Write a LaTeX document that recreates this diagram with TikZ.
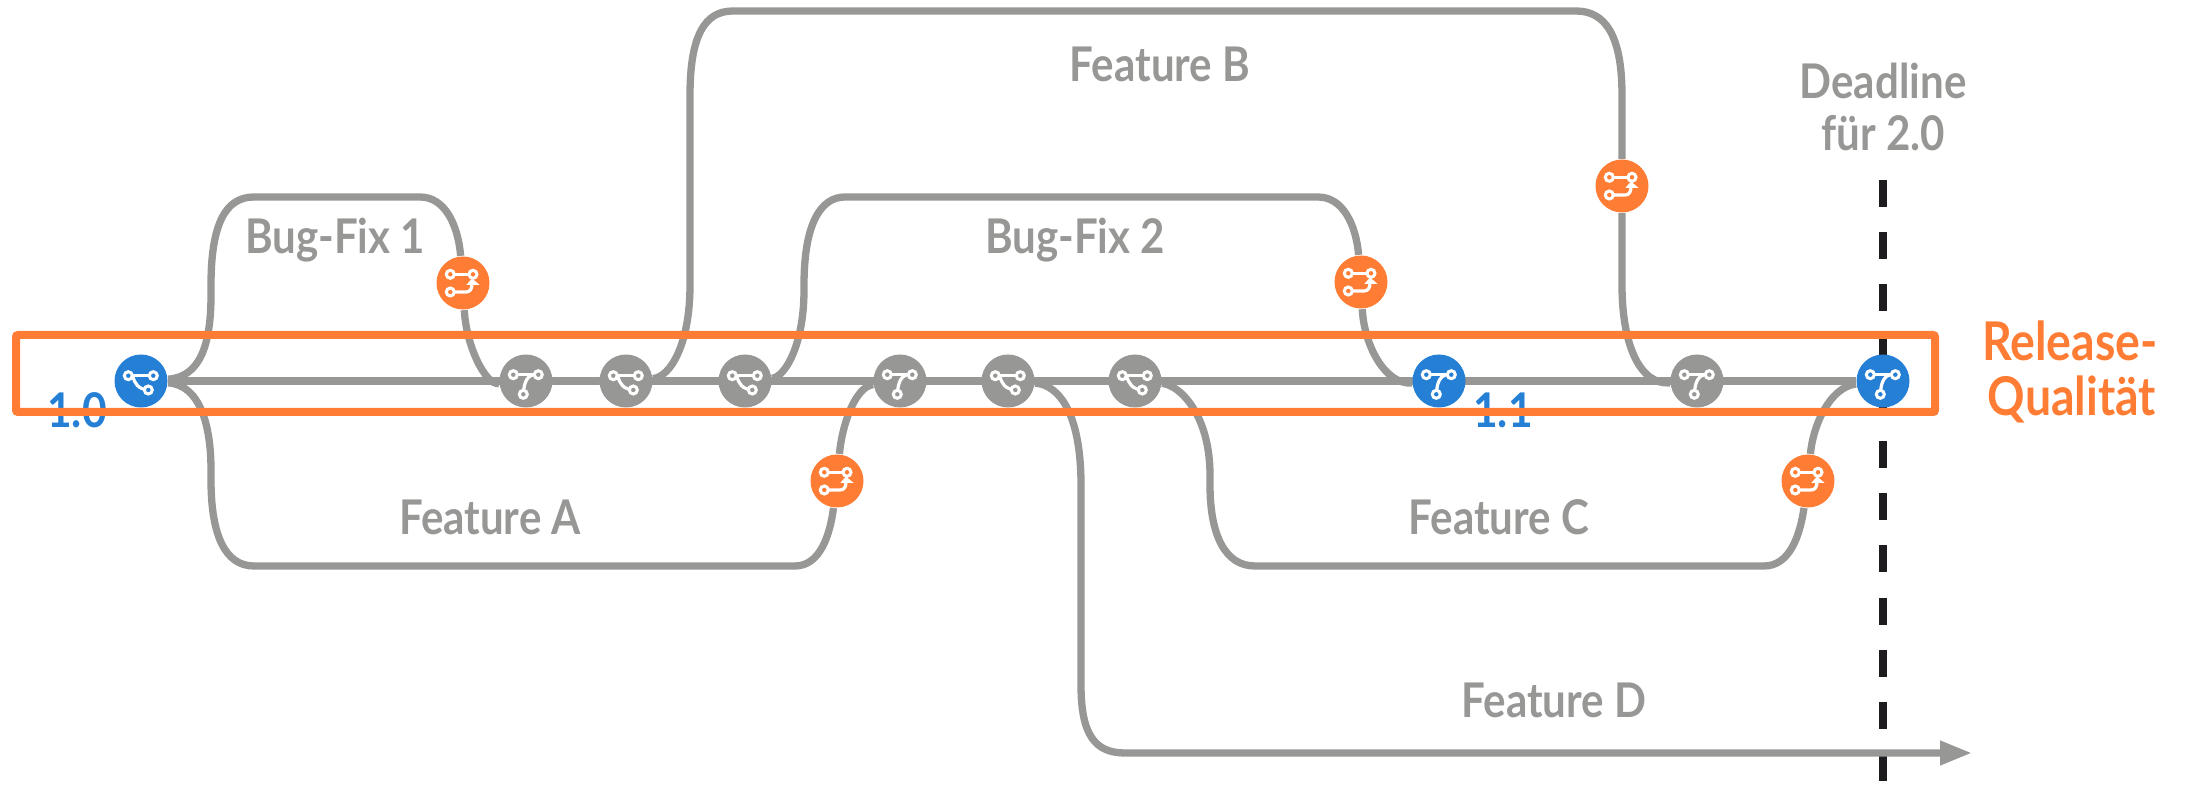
\documentclass[tikz,border=0pt]{standalone}
\usepackage{fontspec}
\setmainfont{Lato}
\usepackage{tikz}
\usetikzlibrary{calc,arrows.meta,positioning}
\definecolor{gitgray}{RGB}{151,151,149}
\definecolor{gitblue}{RGB}{37,127,212}
\definecolor{gitorange}{RGB}{255,124,52}
\definecolor{gitblack}{RGB}{30,28,30}
\pgfdeclarelayer{lines}
\pgfdeclarelayer{band}
\pgfsetlayers{lines,band,main}
\tikzset{
	gitline/.style={line width=0.073cm, color=gitgray},
	gitnode/.style={circle, fill=#1, minimum size=0.53cm, inner sep=0pt},
	ring/.style={fill=#1, draw=white, line width=0.03cm},
	iconline/.style={draw=white, line width=0.032cm},
	featlabel/.style={font=\fontsize{13.6}{16}\selectfont\bfseries, text=gitgray, inner sep=0pt, xscale=0.88},
	verlabel/.style={font=\fontsize{13.6}{16}\selectfont\bfseries, text=gitblue, inner sep=0pt, xscale=0.89},
	qualabel/.style={font=\fontsize{15.2}{18}\selectfont\bfseries, text=gitorange, inner sep=0pt, xscale=0.87},
	pics/branchicon/.style={code={
		\draw[iconline] (-0.127,0.053)--(0.123,0.053);
		\draw[iconline] (-0.085,0.053) .. controls (-0.06,-0.03) and (-0.03,-0.08) .. (0.073,-0.09);
		\draw[ring=#1] (-0.127,0.053) circle (0.04);
		\draw[ring=#1] (0.123,0.053) circle (0.04);
		\draw[ring=#1] (0.073,-0.09) circle (0.04);
	}},
	pics/joinicon/.style={code={
		\draw[iconline] (-0.127,0.063)--(0.123,0.063);
		\draw[iconline] (-0.027,-0.133) .. controls (-0.02,-0.03) and (0,0.045) .. (0.075,0.063);
		\draw[ring=#1] (-0.127,0.063) circle (0.04);
		\draw[ring=#1] (0.123,0.063) circle (0.04);
		\draw[ring=#1] (-0.027,-0.133) circle (0.04);
	}},
	pics/pullicon/.style={code={
		\draw[iconline] (-0.127,0.087)--(0.1,0.087);
		\draw[iconline] (-0.127,-0.09)--(0.03,-0.09) .. controls (0.07,-0.09) and (0.09,-0.06) .. (0.09,-0.01);
		\fill[white] (0.09,0.045)--(0.167,-0.02)--(0.033,-0.02)--cycle;
		\draw[ring=#1] (-0.127,0.087) circle (0.04);
		\draw[ring=#1] (0.1,0.087) circle (0.04);
		\draw[ring=#1] (-0.127,-0.09) circle (0.04);
	}},
}

\begin{document}
\begin{tikzpicture}
	\useasboundingbox (0,0) rectangle (21.87,7.85);

	% commits on the main line
	\node[gitnode=gitblue] (v10) at (1.41,4.04) {};
	\node[gitnode=gitgray] (m1) at (5.26,4.04) {};
	\node[gitnode=gitgray] (b1) at (6.26,4.04) {};
	\node[gitnode=gitgray] (b2) at (7.45,4.04) {};
	\node[gitnode=gitgray] (m2) at (9.00,4.04) {};
	\node[gitnode=gitgray] (b3) at (10.08,4.04) {};
	\node[gitnode=gitgray] (b4) at (11.35,4.04) {};
	\node[gitnode=gitblue] (v11) at (14.39,4.04) {};
	\node[gitnode=gitgray] (m3) at (16.97,4.04) {};
	\node[gitnode=gitblue] (v20) at (18.83,4.04) {};
	\pic at (v10) {branchicon=gitblue};
	\pic at (m1) {joinicon=gitgray};
	\pic at (b1) {branchicon=gitgray};
	\pic at (b2) {branchicon=gitgray};
	\pic at (m2) {joinicon=gitgray};
	\pic at (b3) {branchicon=gitgray};
	\pic at (b4) {branchicon=gitgray};
	\pic at (v11) {joinicon=gitblue};
	\pic at (m3) {joinicon=gitgray};
	\pic at (v20) {joinicon=gitblue};

	% pull requests
	\node[gitnode=gitorange] (pr1) at (4.63,5.02) {};
	\node[gitnode=gitorange] (pr2) at (13.61,5.03) {};
	\node[gitnode=gitorange] (pr3) at (16.22,5.99) {};
	\node[gitnode=gitorange] (pr4) at (8.37,3.04) {};
	\node[gitnode=gitorange] (pr5) at (18.08,3.04) {};
	\pic at (pr1) {pullicon=gitorange};
	\pic at (pr2) {pullicon=gitorange};
	\pic at (pr3) {pullicon=gitorange};
	\pic at (pr4) {pullicon=gitorange};
	\pic at (pr5) {pullicon=gitorange};

	\node[featlabel] (fb) at (11.60,7.21) {Feature B};
	\node[featlabel] (bf1) at (3.35,5.45) {Bug-Fix 1};
	\node[featlabel] (bf2) at (10.75,5.45) {Bug-Fix 2};
	\node[featlabel] (fa) at (4.90,2.68) {Feature A};
	\node[featlabel] (fc) at (14.99,2.68) {Feature C};
	\node[featlabel] (fd) at (15.54,0.85) {Feature D};
	\node[featlabel] (dl) at (18.83,7.04) {Deadline};
	\node[featlabel] (dl2) at (18.83,6.52) {für 2.0};
	\node[qualabel] (rq1) at (20.70,4.44) {Release-};
	\node[qualabel] (rq2) at (20.72,3.86) {Qualität};

	\coordinate (dltop) at (18.83,6.05);
	\coordinate (dlbot) at (18.83,0.03);
	\coordinate (fdend) at (19.72,0.32);
	\coordinate (bandsw) at (0.16,3.73);
	\coordinate (bandne) at (19.35,4.50);

	\begin{pgfonlayer}{lines}
		\node[verlabel] (l10) at (0.77,3.75) {1.0};
		\node[verlabel] (l11) at (15.03,3.75) {1.1};
		\draw[color=gitblack, line width=0.08cm, dash pattern=on 0.27cm off 0.252cm] (dltop)--(dlbot);
		\draw[gitline] (v10)--(v20);
		% bug fix 1
		\draw[gitline] (v10) .. controls (2.0,4.08) and (2.11,4.4) .. (2.11,4.9) -- (2.11,5.0) .. controls (2.11,5.6) and (2.25,5.88) .. (2.54,5.88) -- (4.20,5.88) .. controls (4.45,5.88) and (4.58,5.6) .. (pr1);
		\draw[gitline] (pr1) .. controls (4.66,4.4) and (4.85,4.0) .. (m1);
		% feature a
		\draw[gitline] (v10) .. controls (2.0,4.0) and (2.11,3.6) .. (2.11,3.15) -- (2.11,3.05) .. controls (2.11,2.5) and (2.25,2.19) .. (2.54,2.19) -- (7.95,2.19) .. controls (8.2,2.19) and (8.3,2.5) .. (pr4);
		\draw[gitline] (pr4) .. controls (8.42,3.6) and (8.55,3.98) .. (m2);
		% feature b
		\draw[gitline] (b1) .. controls (6.7,4.08) and (6.90,4.4) .. (6.90,5.0) -- (6.90,6.9) .. controls (6.90,7.5) and (7.05,7.74) .. (7.33,7.74) -- (15.76,7.74) .. controls (16.05,7.74) and (16.22,7.5) .. (16.22,6.9) -- (pr3);
		\draw[gitline] (pr3) -- (16.22,5.0) .. controls (16.22,4.4) and (16.4,4.0) .. (m3);
		% bug fix 2
		\draw[gitline] (b2) .. controls (7.85,4.08) and (8.04,4.4) .. (8.04,4.95) -- (8.04,5.0) .. controls (8.04,5.6) and (8.2,5.88) .. (8.45,5.88) -- (13.18,5.88) .. controls (13.43,5.88) and (13.56,5.6) .. (pr2);
		\draw[gitline] (pr2) .. controls (13.64,4.4) and (13.85,4.0) .. (v11);
		% feature c
		\draw[gitline] (b4) .. controls (11.8,4.0) and (12.10,3.7) .. (12.10,3.1) -- (12.10,3.0) .. controls (12.10,2.5) and (12.25,2.19) .. (12.55,2.19) -- (17.64,2.19) .. controls (17.9,2.19) and (18.0,2.5) .. (pr5);
		\draw[gitline] (pr5) .. controls (18.13,3.6) and (18.3,3.98) .. (v20);
		% feature d
		\draw[gitline,-{Triangle[length=0.32cm,width=0.23cm]}] (b3) .. controls (10.6,4.0) and (10.81,3.7) .. (10.81,3.0) -- (10.81,1.0) .. controls (10.81,0.5) and (10.95,0.32) .. (11.25,0.32) -- (fdend);
	\end{pgfonlayer}

	\begin{pgfonlayer}{band}
		\draw[color=gitorange, line width=0.08cm, rounded corners=0.02cm] (bandsw) rectangle (bandne);
	\end{pgfonlayer}
\end{tikzpicture}
\end{document}
